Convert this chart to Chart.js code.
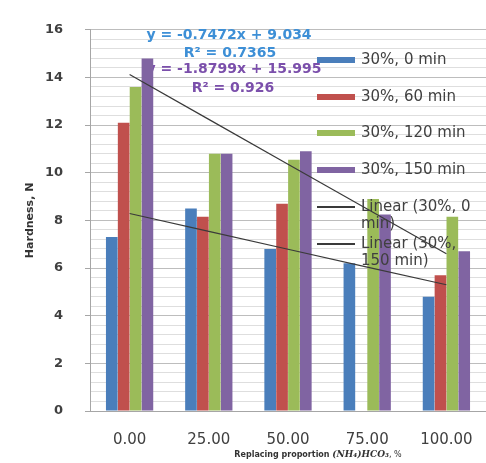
<!DOCTYPE html>
<html>
<head>
<meta charset="utf-8">
<script src="https://cdn.jsdelivr.net/npm/chart.js@4.4.1/dist/chart.umd.min.js"></script>
<style>
  html, body { margin: 0; padding: 0; background: #ffffff; }
  #wrap { width: 486px; height: 463px; position: relative; }
</style>
</head>
<body>
<div id="wrap"><canvas id="hardnessChart"></canvas></div>
<script>
const categories = ['0.00', '25.00', '50.00', '75.00', '100.00'];
const labels = ['30%, 0 min', '30%, 60 min', '30%, 120 min', '30%, 150 min'];
const hardness0 = [7.3, 8.5, 6.8, 6.2, 4.8];
const hardness60 = [12.1, 8.15, 8.7, null, 5.7];
const hardness120 = [13.6, 10.8, 10.55, 8.9, 8.15];
const hardness150 = [14.8, 10.8, 10.9, 8.25, 6.7];
const trend0 = [8.29, 7.54, 6.79, 6.04, 5.30];
const trend150 = [14.12, 12.24, 10.36, 8.48, 6.60];
const trendLabels = ['Linear (30%, 0 min)', 'Linear (30%, 150 min)'];
const equations = [
  { text: 'y = -0.7472x + 9.034', r2: 'R\u00B2 = 0.7365', color: '#3d8fd6' },
  { text: 'y = -1.8799x + 15.995', r2: 'R\u00B2 = 0.926', color: '#7b4fab' }
];

const barColors = ['#4a7ebb', '#c0504d', '#9bbb59', '#8064a2'];
const textColor = '#404040';

function isMajor(v) {
  return Math.abs(v / 2 - Math.round(v / 2)) < 1e-6;
}

function wrapText(ctx, text, maxWidth) {
  const words = text.split(' ');
  const lines = [];
  let line = '';
  words.forEach(w => {
    const test = line ? line + ' ' + w : w;
    if (ctx.measureText(test).width > maxWidth && line) {
      lines.push(line);
      line = w;
    } else {
      line = test;
    }
  });
  if (line) lines.push(line);
  return lines;
}

// equation labels sit behind the bars, like in the original
const equationPlugin = {
  id: 'equations',
  beforeDatasetsDraw(chart) {
    const ctx = chart.ctx;
    ctx.save();
    ctx.font = "bold 14px 'DejaVu Sans'";
    ctx.textAlign = 'center';
    ctx.textBaseline = 'middle';
    ctx.fillStyle = equations[0].color;
    ctx.fillText(equations[0].text, 229, 35);
    ctx.fillText(equations[0].r2, 230, 53);
    ctx.fillStyle = equations[1].color;
    ctx.fillText(equations[1].text, 234, 69);
    ctx.fillText(equations[1].r2, 233, 88);
    ctx.restore();
  }
};

// legend drawn inside the plot area, no background
const innerLegend = {
  id: 'innerLegend',
  afterDatasetsDraw(chart) {
    const ctx = chart.ctx;
    const rows = [60, 97, 133, 170, 207, 244];
    ctx.save();
    ctx.font = "15px 'DejaVu Sans'";
    ctx.textBaseline = 'middle';
    ctx.textAlign = 'left';
    chart.data.datasets.forEach((ds, i) => {
      const y = rows[i];
      if (ds.type === 'line') {
        ctx.strokeStyle = ds.borderColor;
        ctx.lineWidth = 2;
        ctx.beginPath();
        ctx.moveTo(317, y);
        ctx.lineTo(355, y);
        ctx.stroke();
      } else {
        ctx.fillStyle = ds.backgroundColor;
        ctx.fillRect(317, y - 3, 38, 6);
      }
      ctx.fillStyle = textColor;
      const lines = wrapText(ctx, ds.label, 122);
      lines.forEach((ln, k) => ctx.fillText(ln, 361, y + k * 17));
    });
    ctx.restore();
  }
};

// x axis title with the chemical formula in italic serif
const xTitle = {
  id: 'xTitle',
  afterDraw(chart) {
    const ctx = chart.ctx;
    const parts = [
      { t: 'Replacing proportion ', f: "bold 8px 'DejaVu Sans'" },
      { t: '(NH\u2084)HCO\u2083', f: "italic bold 9px 'DejaVu Serif'" },
      { t: ', %', f: "8px 'DejaVu Sans'" }
    ];
    ctx.save();
    let total = 0;
    parts.forEach(p => { ctx.font = p.f; p.w = ctx.measureText(p.t).width; total += p.w; });
    let x = 318 - total / 2;
    ctx.textBaseline = 'middle';
    ctx.fillStyle = '#333333';
    parts.forEach(p => { ctx.font = p.f; ctx.fillText(p.t, x, 455); x += p.w; });
    ctx.restore();
  }
};

const barSeries = [hardness0, hardness60, hardness120, hardness150];

const datasets = barSeries.map((d, i) => ({
  type: 'bar',
  label: labels[i],
  data: d,
  backgroundColor: barColors[i],
  borderWidth: 0,
  categoryPercentage: 0.6,
  barPercentage: 0.98,
  order: 2
}));

[trend0, trend150].forEach((d, i) => {
  datasets.push({
    type: 'line',
    label: trendLabels[i],
    data: d,
    borderColor: '#3a3a3a',
    borderWidth: 1.2,
    pointRadius: 0,
    fill: false,
    tension: 0,
    order: 1
  });
});

new Chart(document.getElementById('hardnessChart'), {
  data: { labels: categories, datasets: datasets },
  options: {
    responsive: true,
    maintainAspectRatio: false,
    animation: false,
    layout: { padding: { top: 20, right: 0, left: 0, bottom: 0 } },
    plugins: {
      legend: { display: false },
      tooltip: { enabled: false }
    },
    scales: {
      x: {
        grid: { display: false },
        border: { color: '#a6a6a6' },
        ticks: { font: { family: 'DejaVu Sans', size: 15 }, color: textColor, padding: 12 },
        afterFit: s => { s.height = 52; }
      },
      y: {
        min: 0,
        max: 16,
        border: { color: '#a6a6a6' },
        grid: {
          color: ctx => isMajor(ctx.tick.value) ? '#bdbdbd' : '#dedede',
          tickColor: ctx => isMajor(ctx.tick.value) ? '#a6a6a6' : 'rgba(0,0,0,0)',
          tickLength: 5
        },
        ticks: {
          stepSize: 0.4,
          autoSkip: false,
          padding: 22,
          color: textColor,
          font: { family: 'DejaVu Sans', size: 13, weight: 'bold' },
          callback: v => isMajor(v) ? Math.round(v) : ''
        },
        title: {
          display: true,
          text: 'Hardness, N',
          color: '#333333',
          font: { family: 'DejaVu Sans', size: 11, weight: 'bold' },
          padding: { top: 24, bottom: 0 }
        },
        afterFit: s => { s.width = 90; }
      }
    }
  },
  plugins: [equationPlugin, innerLegend, xTitle]
});
</script>
</body>
</html>
